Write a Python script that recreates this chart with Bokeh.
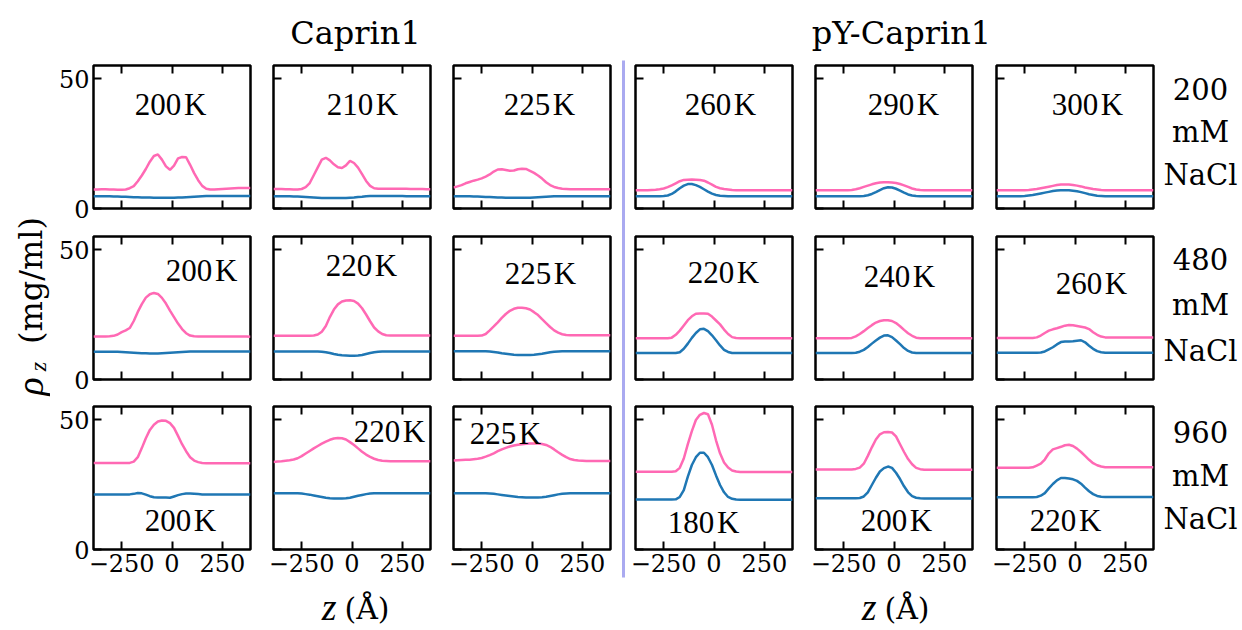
import math
from bokeh.plotting import figure
from bokeh.layouts import row, column
from bokeh.models import Range1d, FixedTicker, LinearAxis, CustomLabelingPolicy
from bokeh.core.properties import value
from bokeh.embed import file_html
from bokeh.resources import INLINE

# ---------------- data ----------------
z = [-390, -370, -350, -330, -310, -290, -270, -250, -230, -210,
     -190, -170, -150, -130, -110, -90, -70, -50, -30, -10,
     10, 30, 50, 70, 90, 110, 130, 150, 170, 190,
     210, 230, 250, 270, 290, 310, 330, 350, 370, 390]

x_ticks = [-250, 0, 250]
x_tick_labels = ["\u2212250", "0", "250"]
y_ticks = [0, 50]
y_tick_labels = ["0", "50"]

group_titles = ["Caprin1", "pY-Caprin1"]
salt_labels = ["200", "480", "960"]
temps = [["200", "210", "225", "260", "290", "300"],
         ["200", "220", "225", "220", "240", "260"],
         ["200", "220", "225", "180", "200", "220"]]

# --- 200 mM NaCl ---
pink_200_c1_200K = [7.3, 7.3, 7.4, 7.4, 7.3, 7.3, 7.2, 7.2, 7.3, 7.8,
                    8.6, 10.5, 12.7, 15.2, 18.0, 20.2, 20.8, 18.8, 16.2, 14.9,
                    16.5, 19.3, 19.8, 19.7, 16.8, 13.6, 10.9, 8.7, 7.6, 7.3,
                    7.3, 7.4, 7.5, 7.6, 7.7, 7.8, 7.9, 7.9, 7.9, 7.9]
blue_200_c1_200K = [4.7, 4.7, 4.7, 4.7, 4.7, 4.6, 4.6, 4.5, 4.5, 4.4,
                    4.3, 4.3, 4.2, 4.2, 4.2, 4.1, 4.1, 4.1, 4.1, 4.1,
                    4.1, 4.2, 4.2, 4.3, 4.4, 4.5, 4.6, 4.7, 4.8, 4.8,
                    4.8, 4.8, 4.8, 4.8, 4.8, 4.8, 4.8, 4.8, 4.8, 4.8]
pink_200_c1_210K = [7.5, 7.5, 7.5, 7.4, 7.4, 7.3, 7.3, 7.5, 8.2, 9.8,
                    12.8, 15.8, 18.8, 19.5, 18.5, 17.0, 15.9, 15.6, 16.6, 18.3,
                    17.5, 15.7, 13.2, 10.6, 8.7, 7.8, 7.6, 7.6, 7.6, 7.6,
                    7.6, 7.6, 7.6, 7.6, 7.5, 7.5, 7.5, 7.5, 7.4, 7.4]
blue_200_c1_210K = [4.7, 4.7, 4.7, 4.7, 4.7, 4.6, 4.6, 4.5, 4.4, 4.3,
                    4.2, 4.1, 4.0, 4.0, 4.0, 4.0, 4.0, 4.0, 4.0, 4.1,
                    4.2, 4.4, 4.5, 4.7, 4.8, 4.8, 4.8, 4.8, 4.8, 4.8,
                    4.8, 4.8, 4.8, 4.7, 4.7, 4.7, 4.7, 4.7, 4.7, 4.7]
pink_200_c1_225K = [8.1, 8.5, 9.0, 9.7, 10.2, 10.7, 11.1, 11.6, 12.3, 13.1,
                    14.2, 15.0, 15.1, 14.8, 14.5, 14.6, 15.1, 15.3, 15.2, 14.5,
                    13.7, 12.7, 11.5, 10.1, 9.0, 8.3, 7.9, 7.6, 7.5, 7.4,
                    7.4, 7.4, 7.4, 7.4, 7.4, 7.4, 7.4, 7.4, 7.4, 7.4]
blue_200_c1_225K = [4.7, 4.7, 4.7, 4.7, 4.7, 4.6, 4.6, 4.5, 4.4, 4.4,
                    4.3, 4.2, 4.2, 4.1, 4.1, 4.1, 4.1, 4.1, 4.1, 4.1,
                    4.2, 4.3, 4.4, 4.5, 4.6, 4.7, 4.7, 4.7, 4.7, 4.7,
                    4.7, 4.7, 4.7, 4.7, 4.7, 4.7, 4.7, 4.7, 4.7, 4.7]
pink_200_py_260K = [7.0, 7.0, 7.0, 7.0, 7.1, 7.2, 7.4, 7.7, 8.2, 8.9,
                    9.7, 10.5, 11.0, 11.1, 11.2, 11.1, 11.0, 10.7, 10.0, 9.2,
                    8.3, 7.8, 7.5, 7.3, 7.1, 7.0, 7.0, 7.0, 7.0, 7.0,
                    7.0, 7.0, 7.0, 7.0, 7.0, 7.0, 7.0, 7.0, 7.0, 7.0]
blue_200_py_260K = [4.7, 4.7, 4.7, 4.7, 4.7, 4.7, 4.7, 4.8, 5.0, 5.6,
                    6.6, 7.8, 8.8, 9.4, 9.4, 9.0, 8.3, 7.4, 6.5, 5.7,
                    5.2, 4.9, 4.8, 4.7, 4.7, 4.7, 4.7, 4.7, 4.7, 4.7,
                    4.7, 4.7, 4.7, 4.7, 4.7, 4.7, 4.7, 4.7, 4.7, 4.7]
pink_200_py_290K = [7.0, 7.0, 7.0, 7.0, 7.0, 7.0, 7.0, 7.0, 7.0, 7.1,
                    7.4, 7.8, 8.3, 8.8, 9.3, 9.7, 10.0, 10.1, 10.1, 10.0,
                    9.8, 9.4, 8.9, 8.3, 7.7, 7.3, 7.1, 7.0, 7.0, 7.0,
                    7.0, 7.0, 7.0, 7.0, 7.0, 7.0, 7.0, 7.0, 7.0, 7.0]
blue_200_py_290K = [4.7, 4.7, 4.7, 4.7, 4.7, 4.7, 4.7, 4.7, 4.7, 4.7,
                    4.7, 4.7, 4.8, 5.1, 5.6, 6.3, 7.1, 7.8, 8.2, 8.1,
                    7.6, 6.9, 6.1, 5.4, 5.0, 4.8, 4.7, 4.7, 4.7, 4.7,
                    4.7, 4.7, 4.7, 4.7, 4.7, 4.7, 4.7, 4.7, 4.7, 4.7]
pink_200_py_300K = [7.0, 7.0, 7.0, 7.0, 7.0, 7.0, 7.0, 7.0, 7.1, 7.3,
                    7.5, 7.8, 8.1, 8.4, 8.7, 9.0, 9.2, 9.2, 9.2, 9.0,
                    8.8, 8.5, 8.1, 7.8, 7.5, 7.3, 7.1, 7.0, 7.0, 7.0,
                    7.0, 7.0, 7.0, 7.0, 7.0, 7.0, 7.0, 7.0, 7.0, 7.0]
blue_200_py_300K = [4.7, 4.7, 4.7, 4.7, 4.7, 4.7, 4.7, 4.8, 5.0, 5.2,
                    5.5, 5.8, 6.1, 6.4, 6.7, 6.9, 7.0, 7.0, 7.0, 6.8,
                    6.6, 6.3, 5.9, 5.5, 5.2, 4.9, 4.8, 4.7, 4.7, 4.7,
                    4.7, 4.7, 4.7, 4.7, 4.7, 4.7, 4.7, 4.7, 4.7, 4.7]

# --- 480 mM NaCl ---
pink_480_c1_200K = [16.5, 16.5, 16.5, 16.5, 16.6, 16.8, 17.3, 18.2, 18.9, 19.8,
                    22.5, 26.0, 29.0, 31.5, 32.8, 33.3, 32.9, 31.4, 29.2, 26.5,
                    24.0, 21.5, 19.4, 17.8, 16.9, 16.6, 16.5, 16.5, 16.5, 16.5,
                    16.5, 16.5, 16.5, 16.5, 16.5, 16.5, 16.5, 16.5, 16.5, 16.4]
blue_480_c1_200K = [10.7, 10.7, 10.7, 10.7, 10.7, 10.7, 10.7, 10.6, 10.5, 10.4,
                    10.3, 10.2, 10.1, 10.1, 10.0, 10.0, 10.0, 10.1, 10.2, 10.3,
                    10.4, 10.5, 10.6, 10.7, 10.8, 10.8, 10.8, 10.8, 10.8, 10.8,
                    10.8, 10.8, 10.8, 10.8, 10.8, 10.8, 10.8, 10.8, 10.8, 10.8]
pink_480_c1_220K = [16.8, 16.8, 16.8, 16.8, 16.8, 16.8, 16.8, 16.8, 16.8, 16.8,
                    16.9, 17.3, 18.4, 20.6, 24.0, 26.9, 28.9, 30.0, 30.4, 30.5,
                    30.2, 29.2, 27.4, 25.0, 22.4, 20.0, 18.5, 17.5, 17.0, 16.9,
                    16.9, 16.9, 16.9, 16.9, 16.9, 16.9, 16.9, 16.9, 16.9, 16.9]
blue_480_c1_220K = [10.8, 10.8, 10.8, 10.8, 10.8, 10.8, 10.8, 10.8, 10.8, 10.8,
                    10.8, 10.8, 10.7, 10.5, 10.2, 9.8, 9.5, 9.3, 9.2, 9.1,
                    9.1, 9.2, 9.4, 9.8, 10.2, 10.5, 10.7, 10.8, 10.8, 10.8,
                    10.8, 10.8, 10.8, 10.8, 10.8, 10.8, 10.8, 10.8, 10.8, 10.8]
pink_480_c1_225K = [16.8, 16.8, 16.8, 16.8, 16.8, 16.8, 16.8, 16.9, 17.5, 18.9,
                    20.4, 22.0, 23.7, 25.2, 26.4, 27.2, 27.6, 27.6, 27.4, 26.9,
                    25.9, 24.8, 23.2, 21.7, 20.2, 18.9, 18.0, 17.4, 17.1, 17.0,
                    17.0, 17.0, 17.0, 17.0, 17.0, 17.0, 17.0, 17.0, 17.0, 17.0]
blue_480_c1_225K = [10.9, 10.9, 10.9, 10.9, 10.9, 10.9, 10.9, 10.9, 10.9, 10.8,
                    10.6, 10.4, 10.1, 9.9, 9.7, 9.5, 9.4, 9.4, 9.4, 9.4,
                    9.5, 9.7, 9.9, 10.2, 10.5, 10.7, 10.8, 10.9, 10.9, 10.9,
                    10.9, 10.9, 10.9, 10.9, 10.9, 10.9, 10.9, 10.9, 10.9, 10.9]
pink_480_py_220K = [15.9, 15.9, 15.9, 15.9, 15.9, 15.9, 15.9, 15.9, 15.9, 16.1,
                    17.2, 18.8, 20.8, 22.8, 24.3, 25.3, 25.4, 25.4, 25.3, 24.2,
                    22.7, 21.2, 19.2, 17.5, 16.3, 16.0, 15.9, 15.9, 15.9, 15.9,
                    15.9, 15.9, 15.9, 15.9, 15.9, 15.9, 15.9, 15.9, 15.9, 15.9]
blue_480_py_220K = [10.2, 10.2, 10.2, 10.2, 10.2, 10.2, 10.2, 10.2, 10.2, 10.2,
                    10.2, 10.5, 11.8, 13.8, 16.0, 17.9, 19.3, 19.5, 18.6, 17.0,
                    15.1, 13.1, 11.4, 10.6, 10.2, 10.2, 10.2, 10.2, 10.2, 10.2,
                    10.2, 10.2, 10.2, 10.2, 10.2, 10.2, 10.2, 10.2, 10.2, 10.2]
pink_480_py_240K = [15.9, 15.9, 15.9, 15.9, 15.9, 15.9, 15.9, 15.9, 15.9, 16.0,
                    16.6, 17.5, 18.6, 19.8, 20.9, 21.9, 22.5, 22.8, 22.8, 22.5,
                    21.7, 20.5, 19.1, 17.8, 16.8, 16.1, 15.9, 15.9, 15.9, 15.9,
                    15.9, 15.9, 15.9, 15.9, 15.9, 15.9, 15.9, 15.9, 15.9, 15.9]
blue_480_py_240K = [10.2, 10.2, 10.2, 10.2, 10.2, 10.2, 10.2, 10.2, 10.2, 10.2,
                    10.3, 10.7, 11.4, 12.5, 13.8, 15.0, 16.1, 16.9, 17.0, 16.3,
                    15.0, 13.6, 12.1, 11.0, 10.4, 10.2, 10.2, 10.2, 10.2, 10.2,
                    10.2, 10.2, 10.2, 10.2, 10.2, 10.2, 10.2, 10.2, 10.2, 10.2]
pink_480_py_260K = [16.0, 16.0, 16.0, 16.0, 16.0, 16.0, 16.0, 16.0, 16.0, 16.0,
                    16.2, 16.9, 17.9, 18.8, 19.3, 19.7, 20.2, 20.7, 21.0, 20.9,
                    20.6, 20.3, 20.0, 19.4, 18.2, 17.2, 16.5, 16.2, 16.2, 16.2,
                    16.2, 16.2, 16.2, 16.2, 16.2, 16.2, 16.2, 16.2, 16.2, 16.2]
blue_480_py_260K = [10.3, 10.3, 10.3, 10.3, 10.3, 10.3, 10.3, 10.3, 10.3, 10.3,
                    10.3, 10.4, 10.8, 11.6, 12.4, 13.5, 14.4, 14.6, 14.6, 14.7,
                    14.9, 15.1, 14.3, 13.0, 11.8, 10.9, 10.5, 10.3, 10.3, 10.3,
                    10.3, 10.3, 10.3, 10.3, 10.3, 10.3, 10.3, 10.3, 10.3, 10.3]

# --- 960 mM NaCl ---
pink_960_c1_200K = [33.3, 33.3, 33.3, 33.3, 33.3, 33.3, 33.3, 33.3, 33.3, 33.3,
                    33.8, 35.5, 39.0, 42.8, 46.0, 48.0, 49.2, 49.6, 49.5, 48.6,
                    46.8, 43.7, 40.5, 37.8, 35.5, 34.2, 33.6, 33.3, 33.2, 33.2,
                    33.2, 33.2, 33.2, 33.2, 33.2, 33.2, 33.2, 33.2, 33.2, 33.2]
blue_960_c1_200K = [21.2, 21.2, 21.2, 21.2, 21.2, 21.2, 21.2, 21.2, 21.2, 21.2,
                    21.4, 21.7, 21.6, 21.1, 20.5, 20.1, 20.0, 20.0, 20.0, 19.9,
                    20.4, 20.9, 21.3, 21.5, 21.5, 21.4, 21.3, 21.2, 21.2, 21.2,
                    21.2, 21.2, 21.2, 21.2, 21.2, 21.2, 21.2, 21.2, 21.2, 21.2]
pink_960_c1_220K = [33.7, 33.8, 33.9, 34.1, 34.3, 34.6, 35.1, 35.9, 36.9, 37.9,
                    38.9, 39.8, 40.7, 41.5, 42.2, 42.7, 42.9, 42.8, 42.3, 41.3,
                    40.2, 38.9, 37.6, 36.5, 35.6, 34.9, 34.4, 34.1, 34.0, 33.9,
                    33.9, 33.9, 33.9, 33.9, 33.9, 33.9, 33.9, 33.9, 33.9, 33.9]
blue_960_c1_220K = [21.6, 21.6, 21.6, 21.6, 21.6, 21.6, 21.6, 21.5, 21.3, 21.1,
                    20.8, 20.5, 20.2, 19.9, 19.7, 19.6, 19.6, 19.6, 19.7, 19.9,
                    20.3, 20.7, 21.0, 21.3, 21.5, 21.6, 21.6, 21.6, 21.6, 21.6,
                    21.6, 21.6, 21.6, 21.6, 21.6, 21.6, 21.6, 21.6, 21.6, 21.6]
pink_960_c1_225K = [34.2, 34.3, 34.4, 34.5, 34.5, 34.7, 34.9, 35.2, 35.7, 36.3,
                    37.0, 37.8, 38.5, 39.1, 39.6, 40.0, 40.3, 40.5, 40.7, 40.8,
                    40.8, 40.8, 40.6, 40.2, 39.5, 38.5, 37.4, 36.4, 35.5, 34.8,
                    34.4, 34.2, 34.1, 34.0, 34.0, 34.0, 34.0, 34.0, 34.0, 34.0]
blue_960_c1_225K = [21.6, 21.6, 21.6, 21.6, 21.6, 21.6, 21.6, 21.6, 21.6, 21.5,
                    21.4, 21.2, 21.0, 20.8, 20.6, 20.4, 20.2, 20.1, 20.0, 20.0,
                    20.0, 20.0, 20.1, 20.3, 20.6, 20.9, 21.2, 21.4, 21.5, 21.6,
                    21.6, 21.6, 21.6, 21.6, 21.6, 21.6, 21.6, 21.6, 21.6, 21.6]
pink_960_py_180K = [29.9, 29.9, 29.9, 29.9, 29.9, 29.9, 29.9, 29.9, 29.9, 29.9,
                    30.1, 31.4, 35.0, 40.5, 45.5, 49.8, 51.8, 52.5, 52.0, 48.0,
                    42.0, 37.0, 33.5, 31.5, 30.4, 30.0, 29.8, 29.8, 29.8, 29.8,
                    29.8, 29.8, 29.8, 29.8, 29.8, 29.8, 29.8, 29.8, 29.8, 29.8]
blue_960_py_180K = [19.2, 19.2, 19.2, 19.2, 19.2, 19.2, 19.2, 19.2, 19.2, 19.2,
                    19.3, 20.2, 22.8, 28.0, 32.5, 35.5, 37.2, 37.2, 35.5, 32.5,
                    28.5, 24.8, 22.0, 20.2, 19.5, 19.2, 19.1, 19.1, 19.1, 19.1,
                    19.1, 19.1, 19.1, 19.1, 19.1, 19.1, 19.1, 19.1, 19.1, 19.1]
pink_960_py_200K = [30.8, 30.8, 30.8, 30.8, 30.8, 30.8, 30.8, 30.8, 30.8, 30.8,
                    31.0, 31.5, 33.0, 36.0, 39.3, 42.3, 44.3, 45.1, 45.2, 45.0,
                    43.5, 40.5, 37.5, 34.8, 32.8, 31.4, 30.9, 30.7, 30.7, 30.7,
                    30.7, 30.7, 30.7, 30.7, 30.7, 30.7, 30.7, 30.7, 30.7, 30.7]
blue_960_py_200K = [19.7, 19.7, 19.7, 19.7, 19.7, 19.7, 19.7, 19.7, 19.7, 19.7,
                    19.7, 19.8, 20.4, 22.0, 24.8, 27.6, 30.0, 31.3, 31.9, 31.4,
                    29.5, 27.1, 24.3, 22.0, 20.5, 19.9, 19.7, 19.6, 19.6, 19.6,
                    19.6, 19.6, 19.6, 19.6, 19.6, 19.6, 19.6, 19.6, 19.6, 19.6]
pink_960_py_220K = [31.4, 31.4, 31.4, 31.4, 31.4, 31.4, 31.4, 31.4, 31.4, 31.6,
                    32.3, 33.0, 34.6, 37.0, 38.5, 39.0, 39.5, 40.1, 40.3, 39.8,
                    38.8, 37.5, 36.0, 34.5, 33.2, 32.4, 31.9, 31.6, 31.6, 31.6,
                    31.6, 31.6, 31.6, 31.6, 31.6, 31.6, 31.6, 31.6, 31.6, 31.6]
blue_960_py_220K = [20.1, 20.1, 20.1, 20.1, 20.1, 20.1, 20.1, 20.1, 20.1, 20.1,
                    20.2, 20.7, 21.7, 23.5, 25.2, 26.6, 27.5, 27.5, 27.3, 27.0,
                    26.4, 25.3, 23.8, 22.4, 21.3, 20.6, 20.3, 20.2, 20.2, 20.2,
                    20.2, 20.2, 20.2, 20.2, 20.2, 20.2, 20.2, 20.2, 20.2, 20.2]

pink = [[pink_200_c1_200K, pink_200_c1_210K, pink_200_c1_225K,
         pink_200_py_260K, pink_200_py_290K, pink_200_py_300K],
        [pink_480_c1_200K, pink_480_c1_220K, pink_480_c1_225K,
         pink_480_py_220K, pink_480_py_240K, pink_480_py_260K],
        [pink_960_c1_200K, pink_960_c1_220K, pink_960_c1_225K,
         pink_960_py_180K, pink_960_py_200K, pink_960_py_220K]]
blue = [[blue_200_c1_200K, blue_200_c1_210K, blue_200_c1_225K,
         blue_200_py_260K, blue_200_py_290K, blue_200_py_300K],
        [blue_480_c1_200K, blue_480_c1_220K, blue_480_c1_225K,
         blue_480_py_220K, blue_480_py_240K, blue_480_py_260K],
        [blue_960_c1_200K, blue_960_c1_220K, blue_960_c1_225K,
         blue_960_py_180K, blue_960_py_200K, blue_960_py_220K]]

# temperature label anchor (data coords of each panel)
temp_lab_x = [[-7, 52, 37, 32, 47, 62],
              [147, 47, 42, 47, 27, 82],
              [42, 186, -132, -52, 12, -47]]
temp_lab_y = [[40.0, 40.0, 40.0, 40.0, 40.0, 40.0],
              [41.9, 43.8, 40.8, 41.2, 39.6, 36.9],
              [11.2, 45.4, 44.6, 10.4, 11.2, 11.2]]

# ---------------- styling ----------------
PINK = "#ff69b4"
BLUE = "#1f77b4"
SERIF = "DejaVu Serif"
TSERIF = "Liberation Serif"

FRAME_W, FRAME_H = 157, 143
left_b = [43, 12, 12, 10, 12, 12]
right_b = [11, 11, 2, 11, 12, 2]
top_b = [10, 13, 12]
bot_b = [15, 15, 32]

HIDE_ALL = """
for (const i of indices)
    indices.unset(i)
return indices
"""


def style_axis(ax, ticks, labels, show):
    ax.ticker = FixedTicker(ticks=ticks)
    ax.major_tick_in = 8
    ax.major_tick_out = 0
    ax.minor_tick_in = 0
    ax.minor_tick_out = 0
    ax.major_tick_line_width = 2
    ax.major_tick_line_color = "black"
    ax.axis_line_color = None
    ax.major_label_overrides = {t: l for t, l in zip(ticks, labels)}
    if show:
        ax.major_label_text_font = SERIF
        ax.major_label_text_font_size = "24px"
        ax.major_label_text_color = "black"
        ax.major_label_standoff = 4
    else:
        ax.major_label_text_font_size = "2px"
        ax.major_label_standoff = 0
        ax.major_label_policy = CustomLabelingPolicy(code=HIDE_ALL)


def panel(r, c):
    p = figure(frame_width=FRAME_W, frame_height=FRAME_H,
               min_border_left=left_b[c], min_border_right=right_b[c],
               min_border_top=top_b[r], min_border_bottom=bot_b[r],
               x_range=Range1d(-390, 390), y_range=Range1d(0, 55),
               output_backend="svg", toolbar_location=None)
    p.xgrid.visible = False
    p.ygrid.visible = False
    p.outline_line_color = "black"
    p.outline_line_width = 2.5
    p.outline_line_alpha = 1.0
    p.background_fill_color = "white"
    p.border_fill_color = "white"
    style_axis(p.xaxis[0], x_ticks, x_tick_labels, r == 2)
    style_axis(p.yaxis[0], y_ticks, y_tick_labels, c == 0)
    top = LinearAxis()
    style_axis(top, x_ticks, x_tick_labels, False)
    p.add_layout(top, "above")
    p.line(z, pink[r][c], line_color=PINK, line_width=2.5)
    p.line(z, blue[r][c], line_color=BLUE, line_width=2.5)
    p.text(x=[temp_lab_x[r][c]], y=[temp_lab_y[r][c]],
           text=[temps[r][c] + "\u200aK"], text_font=value(TSERIF),
           text_font_size="31px", text_align="center",
           text_baseline="middle", text_color="black")
    return p


def strip(w, h, x0, y0):
    s = figure(width=w, height=h, x_range=Range1d(x0, x0 + w),
               y_range=Range1d(-(y0 + h), -y0), output_backend="svg",
               toolbar_location=None, x_axis_type=None, y_axis_type=None,
               min_border=0)
    s.outline_line_color = None
    s.background_fill_color = "white"
    s.border_fill_color = "white"
    return s


def put(s, x, y, t, font=SERIF, size="30px", style="normal", align="center",
        angle=0.0):
    s.text(x=[x], y=[-y], text=[t], text_font=value(font), text_font_size=size,
           text_font_style=style, text_align=align, text_baseline="middle",
           text_color="black", angle=angle)


TOP_H, BOT_H, MID_H = 55, 49, 526

# top titles
top_strip = strip(1242, TOP_H, 0, 0)
put(top_strip, 355, 32, group_titles[0], size="32px")
put(top_strip, 901, 32, group_titles[1], size="32px")

# bottom x labels
bot_strip = strip(1242, BOT_H, 0, 581)
for cx in (336, 876):
    put(bot_strip, cx, 606, "z", font=TSERIF, size="38px", style="italic",
        align="right")
    put(bot_strip, cx + 8, 608, "(\u00c5)", size="30px", align="left")

# left y label
left_strip = strip(50, MID_H, 0, 55)
put(left_strip, 29, 386, "\u03c1", font=TSERIF, size="38px", style="italic",
    align="center", angle=math.pi / 2)
put(left_strip, 37, 366, "z", font=TSERIF, size="24px", style="italic",
    align="center", angle=math.pi / 2)
put(left_strip, 30, 280, "(mg/ml)", size="32px", align="center",
    angle=math.pi / 2)

# separator
sep_strip = strip(13, MID_H, 612, 55)
sep_strip.line([623, 623], [-60, -577], line_color="#aaaaf0", line_width=3)

# right salt labels
right_strip = strip(87, MID_H, 1155, 55)
salt_y = [(88, 131, 174), (258, 304, 350), (431, 475, 518)]
for r in range(3):
    ys = salt_y[r]
    put(right_strip, 1200, ys[0], salt_labels[r], size="29px")
    put(right_strip, 1200, ys[1], "mM", size="29px")
    put(right_strip, 1200, ys[2], "NaCl", size="29px")

cols = []
for c in range(6):
    cols.append(column(*[panel(r, c) for r in range(3)], spacing=0))

middle = row(left_strip, cols[0], cols[1], cols[2], sep_strip,
             cols[3], cols[4], cols[5], right_strip, spacing=0)
layout = column(top_strip, middle, bot_strip, spacing=0)

open("out.html", "w").write(file_html(layout, INLINE))
